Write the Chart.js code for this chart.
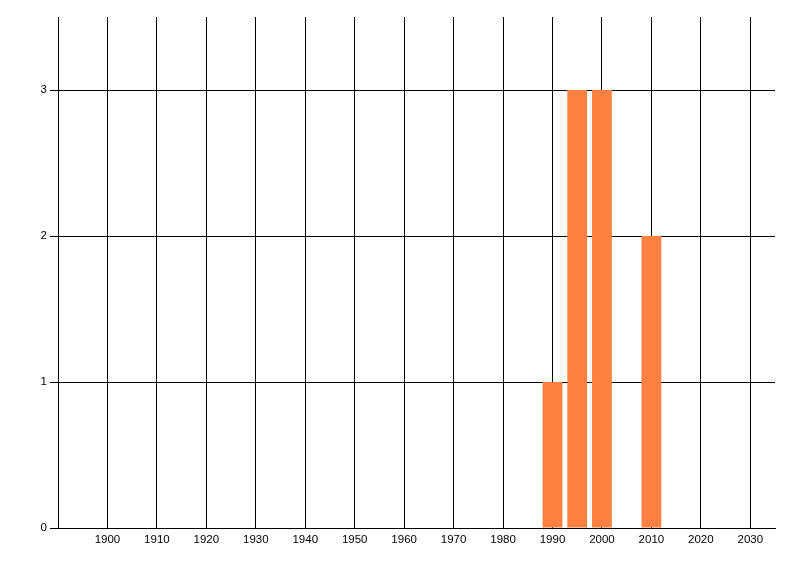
<!DOCTYPE html>
<html>
<head>
<meta charset="utf-8">
<script src="https://cdn.jsdelivr.net/npm/chart.js@4/dist/chart.umd.min.js"></script>
<style>
  html, body { margin: 0; padding: 0; background: #fff; }
  canvas { display: block; }
</style>
</head>
<body>
<canvas id="grafico" width="800" height="576"></canvas>
<script>
// dados do grafico
var anos = [1990, 1995, 2000, 2010];
var quantidades = [1, 3, 3, 2];
var ticksX = [1900, 1910, 1920, 1930, 1940, 1950, 1960, 1970, 1980, 1990, 2000, 2010, 2020, 2030];
var ticksY = [0, 1, 2, 3];

var pontos = anos.map(function (a, i) {
  return { x: a, y: quantidades[i] };
});

var fonte = { family: "'Liberation Sans', Arial, sans-serif", size: 11.5 };

var graf = document.getElementById("grafico").getContext("2d");
var grafico = new Chart(graf, {
  type: "bar",
  data: {
    datasets: [
      {
        label: "Quantidade",
        data: pontos,
        backgroundColor: "rgb(255, 128, 64)",
        borderWidth: 0,
        barPercentage: 0.8,
        categoryPercentage: 1.0,
      },
    ],
  },
  options: {
    responsive: false,
    animation: false,
    plugins: {
      legend: { display: false },
      tooltip: { enabled: false },
    },
    layout: {
      padding: { left: 0, right: 25, top: 17, bottom: 0 },
    },
    scales: {
      x: {
        type: "linear",
        min: 1890,
        max: 2035,
        offset: false,
        afterBuildTicks: function (scale) {
          scale.ticks = ticksX.map(function (v) { return { value: v }; });
        },
        afterFit: function (scale) { scale.height = 48; },
        grid: { color: "#000", lineWidth: 1, drawTicks: false, offset: false },
        border: { color: "#000", width: 1 },
        ticks: {
          color: "#000",
          font: fonte,
          padding: 5,
          maxRotation: 0,
          autoSkip: false,
          callback: function (v) { return String(v); },
        },
      },
      y: {
        min: 0,
        max: 3.5,
        afterBuildTicks: function (scale) {
          scale.ticks = ticksY.map(function (v) { return { value: v }; });
        },
        afterFit: function (scale) { scale.width = 58; },
        grid: { color: "#000", lineWidth: 1, drawTicks: true, tickLength: 8 },
        border: { color: "#000", width: 1 },
        ticks: {
          color: "#000",
          font: fonte,
          padding: 3,
          callback: function (v) { return String(v); },
        },
      },
    },
  },
});
</script>
</body>
</html>
